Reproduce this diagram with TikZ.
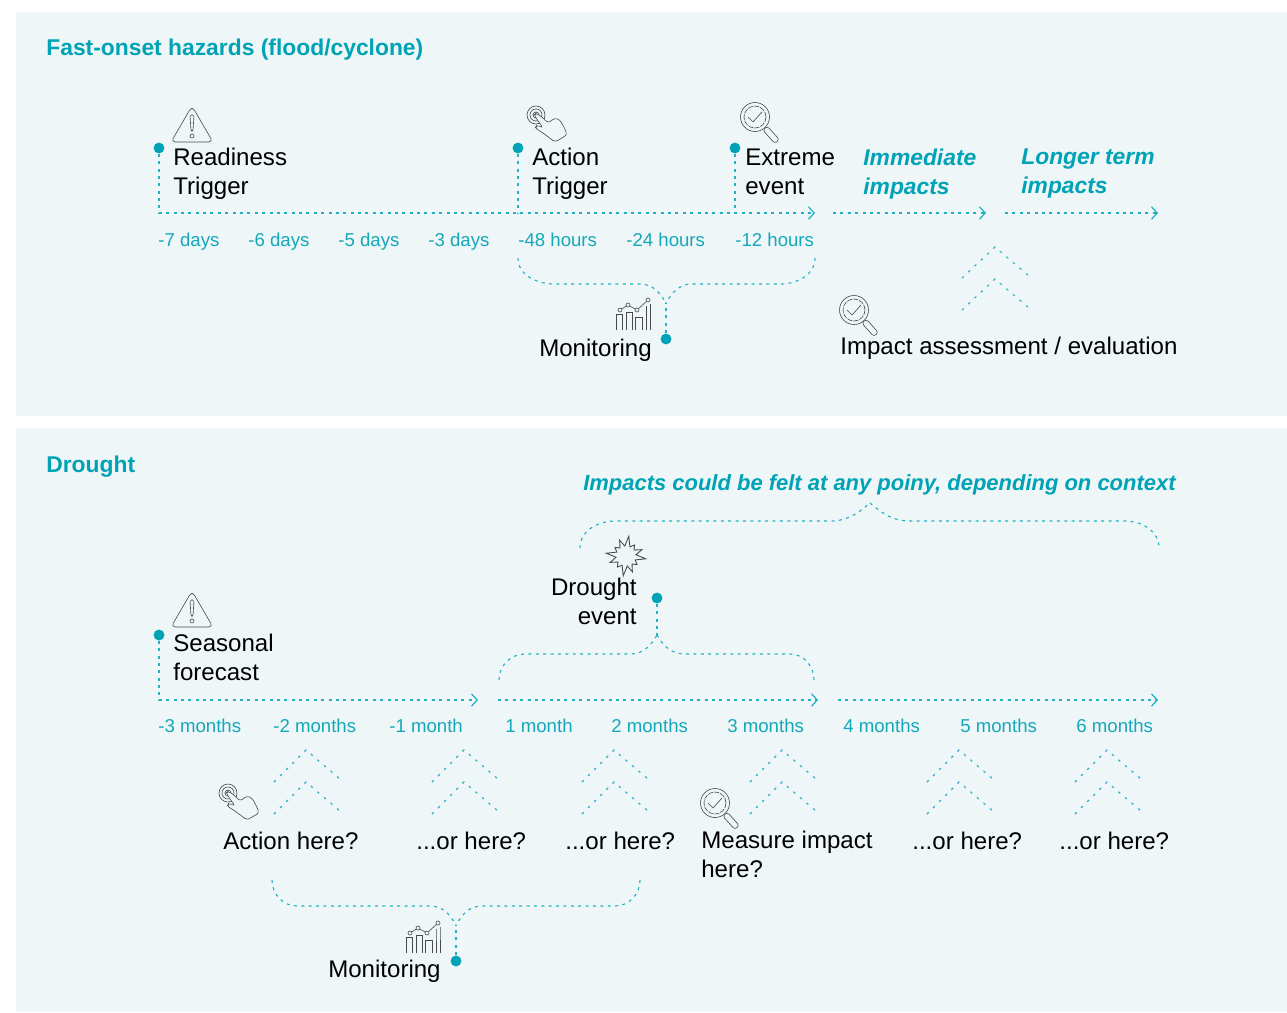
\documentclass[tikz,border=0pt]{standalone}
\usepackage{fontspec}
\setmainfont{Liberation Sans}
\usepackage[HTML]{xcolor}
\usetikzlibrary{positioning, arrows, arrows.meta}
\definecolor{panelbg}{HTML}{EEF6F8}
\definecolor{tealdark}{HTML}{00A3B5}
\definecolor{tealline}{HTML}{22B2C4}
\definecolor{teallabel}{HTML}{14A8BA}
\definecolor{icongrey}{HTML}{4A4A4A}
\tikzset{
  dashline/.style={tealline,line width=0.65pt,dash pattern=on 1.7pt off 2.5pt},
  timearrow/.style={dashline,-{Straight Barb[length=3.2pt,width=7pt,line width=0.7pt]}},
  chevron/.style={tealline,line width=0.65pt,dash pattern=on 1.4pt off 3.5pt},
  dotmark/.style={circle,fill=tealdark,inner sep=0pt,minimum size=6.2pt},
  steplabel/.style={inner sep=0pt,anchor=west,align=left,font=\fontsize{13.7}{16.45}\selectfont,execute at begin node=\strut,execute at end node=\strut},
  impactlabel/.style={steplabel,text=tealdark,font=\fontsize{13}{16.45}\selectfont\bfseries\itshape},
  ticklabel/.style={inner sep=0pt,anchor=base west,text=teallabel,font=\fontsize{10.6}{13}\selectfont},
  headlabel/.style={inner sep=0pt,anchor=base west,text=tealdark,font=\fontsize{13}{16}\selectfont\bfseries},
  icon/.style={icongrey,line width=0.35pt},
  warnicon/.pic={
    \draw[icon,rounded corners=2.5pt] (0,-18)--(21,18)--(-21,18)--cycle;
    \draw[icon,rounded corners=0.8pt] (-2,-9)--(2,-9)--(1,7)--(-1,7)--cycle;
    \draw[icon] (0,12) circle (2);
  },
  handicon/.pic={
    \foreach \r in {3,6,9} \draw[icon] (-11,-7) circle (\r);
    \draw[icon,fill=panelbg,rounded corners=1.5pt] (-11,-9)--(-5,-5)--(1,1)--(8,-4)--(13,-2)--(18,7)--(20,13)--(8,20)--(-4,11)--(-12,6)--(-10,3)--(-4,6)--(-13,-7)--cycle;
  },
  lensicon/.pic={
    \draw[icon] (0,0) circle (14.5);
    \draw[icon,dash pattern=on 3pt off 0.6pt] (0,0) circle (11);
    \draw[icon] (-7,0)--(-2,5)--(7,-5);
    \draw[icon,rounded corners=1.5pt,rotate=-48] (15,-3)--(33,-3)--(33,3)--(15,3)--cycle;
  },
  charticon/.pic={
    \foreach \a/\b/\h in {-17/-11/0,-7/-1/-2,2/9/3,13/13/-8,17/17/-10}
      \draw[icon] (\a,16)--(\a,\h)--(\b,\h)--(\b,16);
    \draw[icon] (-13,-4)--(-5,-9)--(4,-4)--(15,-14);
    \foreach \a/\b in {-13/-4,-5/-9,4/-4,15/-14}
      \draw[icon,fill=panelbg] (\a,\b) circle (2);
  },
  bursticon/.pic={
    \draw[icon,line width=0.5pt,fill=panelbg] plot[samples at={0,...,23},variable=\k] ({\k*15+8}:{mod(\k,2)==0 ? 20-mod(\k,3)*3 : 10}) -- cycle;
  }
}
\begin{document}
\begin{tikzpicture}[x=0.02cm,y=-0.02cm]
\useasboundingbox (0,0) rectangle (1287,1012);
\fill[panelbg] (16,12) rectangle (1287,416);
\fill[panelbg] (16,428) rectangle (1287,1012);

% fast onset panel
\node[headlabel] (fasthead) at (46,55) {Fast-onset hazards (flood/cyclone)};
\node[dotmark] (readydot) at (159,148) {};
\node[dotmark] (actiondot) at (518,148) {};
\node[dotmark] (extremedot) at (735,148) {};
\coordinate (fastcorner) at (159,213);
\coordinate (actionfoot) at (518,213);
\coordinate (extremefoot) at (735,213);
\coordinate (fastend) at (815,213);
\coordinate (immstart) at (833,213);
\coordinate (immend) at (986,213);
\coordinate (longstart) at (1005,213);
\coordinate (longend) at (1158,213);
\draw[timearrow] (readydot)--(fastcorner)--(fastend);
\draw[dashline] (actiondot)--(actionfoot);
\draw[dashline] (extremedot)--(extremefoot);
\draw[timearrow] (immstart)--(immend);
\draw[timearrow] (longstart)--(longend);
\node[steplabel] (readylabel) at (173,175.7) {Readiness\\Trigger};
\node[steplabel] (actionlabel) at (532,175.7) {Action\\Trigger};
\node[steplabel] (extremelabel) at (745,175.7) {Extreme\\event};
\node[impactlabel] (immlabel) at (863,175.7) {Immediate\\impacts};
\node[impactlabel] (longlabel) at (1021,175.7) {Longer term\\impacts};
\foreach \x/\t in {158/-7 days,248/-6 days,338/-5 days,428/-3 days,518/-48 hours,626/-24 hours,735/-12 hours}
  \node[ticklabel] (fasttick\x) at (\x,246) {\t};
\pic at (192,124) {warnicon};
\pic at (547,122) {handicon};
\pic at (755,117) {lensicon};

% monitoring brace
\node[dotmark] (fastmon) at (666,339) {};
\coordinate (fastjoin) at (666,303);
\coordinate (bl) at (518,258);
\coordinate (bla) at (555,284);
\coordinate (blb) at (640,284);
\coordinate (br) at (815,258);
\coordinate (bra) at (780,284);
\coordinate (brb) at (692,284);
\draw[dashline] (fastmon)--(fastjoin);
\draw[dashline] (bl) to[out=-90,in=180] (bla)--(blb) to[out=0,in=120] (fastjoin);
\draw[dashline] (br) to[out=-90,in=0] (bra)--(brb) to[out=180,in=60] (fastjoin);
\pic at (633,314) {charticon};
\node[steplabel,anchor=east] (fastmonlabel) at (652,351) {Monitoring};

\foreach \x/\y in {995/247} {
  \draw[chevron] (\x-33,\y+31)--(\x,\y)--(\x+34,\y+29);
  \draw[chevron] (\x-33,\y+63)--(\x,\y+32)--(\x+34,\y+61);
}
\pic at (854,310) {lensicon};
\node[steplabel] (assesslabel) at (840,349) {Impact assessment / evaluation};

% drought panel
\node[headlabel] (droughthead) at (46,472) {Drought};
\node[impactlabel,font=\fontsize{12.5}{16.45}\selectfont\bfseries\itshape] (anylabel) at (583,485) {Impacts could be felt at any poiny, depending on context};
\coordinate (topl) at (580,548);
\coordinate (topla) at (615,521);
\coordinate (toplb) at (830,521);
\coordinate (topjoin) at (870,503);
\coordinate (topra) at (910,521);
\coordinate (toprb) at (1125,521);
\coordinate (topr) at (1159,548);
\draw[dashline] (topl) to[out=90,in=180] (topla)--(toplb) to[out=0,in=-140] (topjoin);
\draw[dashline] (topjoin) to[out=-40,in=180] (topra)--(toprb) to[out=0,in=90] (topr);

\pic at (626,556) {bursticon};
\node[steplabel,align=right,anchor=east] (eventlabel) at (637,605.7) {Drought\\event};
\node[dotmark] (eventdot) at (657,598) {};
\coordinate (eventjoin) at (657,635);
\coordinate (el) at (499,680);
\coordinate (ela) at (525,654);
\coordinate (elb) at (630,654);
\coordinate (er) at (814,680);
\coordinate (era) at (790,654);
\coordinate (erb) at (685,654);
\draw[dashline] (eventdot)--(eventjoin);
\draw[dashline] (el) to[out=90,in=180] (ela)--(elb) to[out=0,in=-120] (eventjoin);
\draw[dashline] (er) to[out=90,in=0] (era)--(erb) to[out=180,in=-60] (eventjoin);

\node[dotmark] (seasondot) at (159,635) {};
\coordinate (seasoncorner) at (159,700);
\coordinate (seasonend) at (478,700);
\coordinate (midstart) at (498,700);
\coordinate (midend) at (818,700);
\coordinate (laststart) at (838,700);
\coordinate (lastend) at (1158,700);
\draw[timearrow] (seasondot)--(seasoncorner)--(seasonend);
\draw[timearrow] (midstart)--(midend);
\draw[timearrow] (laststart)--(lastend);
\pic at (192,609) {warnicon};
\node[steplabel] (seasonlabel) at (173,661.7) {Seasonal\\forecast};
\foreach \x/\t in {158/-3 months,273/-2 months,389/-1 month,505/1 month,611/2 months,727/3 months,843/4 months,960/5 months,1076/6 months}
  \node[ticklabel] (droughttick\x) at (\x,732) {\t};

\foreach \x in {306,464,614,782,959,1107} {
  \draw[chevron] (\x-32,782)--(\x,750)--(\x+34,779);
  \draw[chevron] (\x-32,814)--(\x,782)--(\x+34,811);
}
\pic at (239,800) {handicon};
\pic at (715,803) {lensicon};
\node[steplabel] (actionhere) at (223,844) {Action here?};
\node[steplabel] (orhereone) at (416,844) {...or here?};
\node[steplabel] (orheretwo) at (565,844) {...or here?};
\node[steplabel] (measurelabel) at (701,858.7) {Measure impact\\here?};
\node[steplabel] (orherethree) at (912,844) {...or here?};
\node[steplabel] (orherefour) at (1059,844) {...or here?};

% monitoring brace
\node[dotmark] (droughtmon) at (456,961) {};
\coordinate (monjoin) at (456,925);
\coordinate (ml) at (272,880);
\coordinate (mla) at (297,906);
\coordinate (mlb) at (430,906);
\coordinate (mr) at (640,880);
\coordinate (mra) at (615,906);
\coordinate (mrb) at (482,906);
\draw[dashline] (droughtmon)--(monjoin);
\draw[dashline] (ml) to[out=-90,in=180] (mla)--(mlb) to[out=0,in=120] (monjoin);
\draw[dashline] (mr) to[out=-90,in=0] (mra)--(mrb) to[out=180,in=60] (monjoin);
\pic at (423,937) {charticon};
\node[steplabel,anchor=east] (droughtmonlabel) at (441,972) {Monitoring};
\end{tikzpicture}
\end{document}
